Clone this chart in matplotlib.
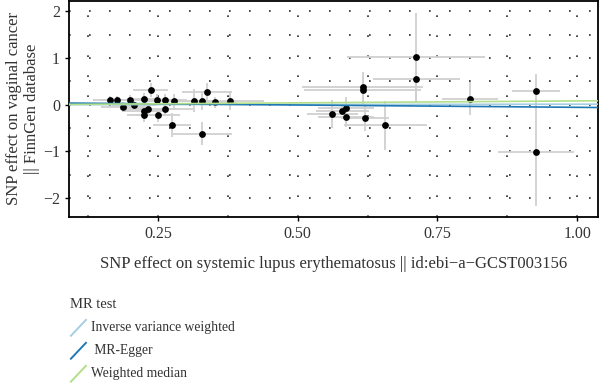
"""
MR scatter plot: SNP effects on systemic lupus erythematosus vs vaginal cancer,
with fitted lines for three MR methods.
"""

import matplotlib
matplotlib.use("Agg")
import matplotlib.pyplot as plt
from matplotlib.legend_handler import HandlerBase
from matplotlib.lines import Line2D
from matplotlib.ticker import MultipleLocator

plt.rcParams["font.family"] = ["Liberation Serif", "DejaVu Serif"]

# ──────────────────────────────────────────────────────────────
# Data
# ──────────────────────────────────────────────────────────────
snp_x = [0.164, 0.177, 0.188, 0.200, 0.207, 0.225, 0.225, 0.225, 0.232, 0.237,
         0.249, 0.250, 0.262, 0.262, 0.275, 0.279, 0.314, 0.329, 0.329, 0.337,
         0.352, 0.379,
         0.562, 0.580, 0.587, 0.587, 0.620, 0.657, 0.616, 0.616, 0.712, 0.712,
         0.809, 0.927, 0.927]
snp_y = [0.11, 0.11, -0.04, 0.10, 0.00, 0.13, -0.14, -0.23, -0.09, 0.32,
         0.11, -0.22, 0.11, -0.09, -0.44, 0.09, 0.09, 0.09, -0.62, 0.28,
         0.05, 0.09,
         -0.20, -0.13, -0.08, -0.27, -0.28, -0.44, 0.38, 0.32, 1.02, 0.55,
         0.13, 0.30, -1.02]
se_x = [0.030, 0.030, 0.040, 0.030, 0.040, 0.030, 0.040, 0.030, 0.050, 0.031,
        0.040, 0.040, 0.040, 0.050, 0.034, 0.050, 0.040, 0.030, 0.054, 0.045,
        0.040, 0.060,
        0.045, 0.047, 0.050, 0.050, 0.043, 0.075, 0.109, 0.105, 0.123, 0.078,
        0.050, 0.043, 0.068]
se_y = [0.08, 0.08, 0.10, 0.10, 0.10, 0.12, 0.12, 0.15, 0.12, 0.15,
        0.12, 0.15, 0.12, 0.15, 0.26, 0.15, 0.25, 0.20, 0.25, 0.18,
        0.12, 0.20,
        0.30, 0.10, 0.25, 0.20, 0.28, 0.53, 0.33, 0.30, 0.95, 0.50,
        0.35, 0.35, 1.15]

methods = ["Inverse variance weighted", " MR-Egger", "Weighted median"]
method_intercepts = [0.0, 0.045, 0.0]
method_slopes = [0.012, -0.100, 0.082]
method_colors = ["#a6cee3", "#1f78b4", "#b2df8a"]

x_ticks = [0.25, 0.50, 0.75, 1.00]
x_ticklabels = ["0.25", "0.50", "0.75", "1.00"]
y_ticks = [-2, -1, 0, 1, 2]

X_LABEL = "SNP effect on systemic lupus erythematosus || id:ebi\u2212a\u2212GCST003156"
Y_LABEL = "SNP effect on vaginal cancer\n|| FinnGen database"

_TEXT_COL = "#333333"
_ERR_COL = "#d0d0d0"
_GRID_COL = "#2a2a2a"


class DiagonalHandler(HandlerBase):
    """Legend key drawn as a short '/' stroke, like ggplot's abline key."""

    def create_artists(self, legend, orig_handle, xdescent, ydescent,
                       width, height, fontsize, trans):
        x0, y0 = -xdescent, -ydescent
        line = Line2D([x0, x0 + width], [y0 - 0.2 * height, y0 + 1.0 * height],
                      color=orig_handle.get_color(), lw=orig_handle.get_linewidth(),
                      solid_capstyle="butt", transform=trans)
        return [line]


fig = plt.figure(figsize=(6.0, 3.85), dpi=100)
ax = fig.add_axes([0.115, 0.437, 0.882, 0.560])

ax.errorbar(snp_x, snp_y, xerr=se_x, yerr=se_y, fmt="none",
            ecolor=_ERR_COL, elinewidth=1.3, capsize=0, zorder=2)
ax.scatter(snp_x, snp_y, s=24, color="black", zorder=3, linewidths=0)

handles = []
for name, a, b, col in zip(methods, method_intercepts, method_slopes, method_colors):
    ax.axline((0, a), slope=b, color=col, lw=1.2, zorder=4)
    handles.append(Line2D([], [], color=col, lw=1.4, label=name))

ax.set_xlim(0.0907, 1.0376)
ax.set_ylim(-2.4, 2.22)
ax.set_xticks(x_ticks, x_ticklabels)
ax.set_yticks(y_ticks)
ax.xaxis.set_minor_locator(MultipleLocator(0.125))
ax.yaxis.set_minor_locator(MultipleLocator(0.5))

ax.grid(which="both", linestyle=(0, (1, 11)), color=_GRID_COL, lw=1.2, zorder=0)
ax.set_axisbelow(True)
ax.tick_params(which="major", length=3, width=1, colors="black",
               labelcolor=_TEXT_COL, labelsize=11.5)
ax.tick_params(which="minor", length=0)
for spine in ax.spines.values():
    spine.set_linewidth(1.3)
    spine.set_color("black")

ax.set_xlabel(X_LABEL, fontsize=12, color=_TEXT_COL, labelpad=10)
ax.set_ylabel(Y_LABEL, fontsize=12, color=_TEXT_COL, labelpad=2, linespacing=1.15)

leg = fig.legend(handles=handles, loc="upper left", bbox_to_anchor=(0.108, 0.240),
                 frameon=False, title="MR test", alignment="left",
                 handler_map={Line2D: DiagonalHandler()},
                 handlelength=1.2, handleheight=1.25, handletextpad=0.3,
                 labelspacing=0.6, borderaxespad=0, fontsize=9.8,
                 title_fontsize=10.5)
for txt in leg.get_texts():
    txt.set_color(_TEXT_COL)
leg.get_title().set_color(_TEXT_COL)

fig.savefig("out.png", dpi=100)
